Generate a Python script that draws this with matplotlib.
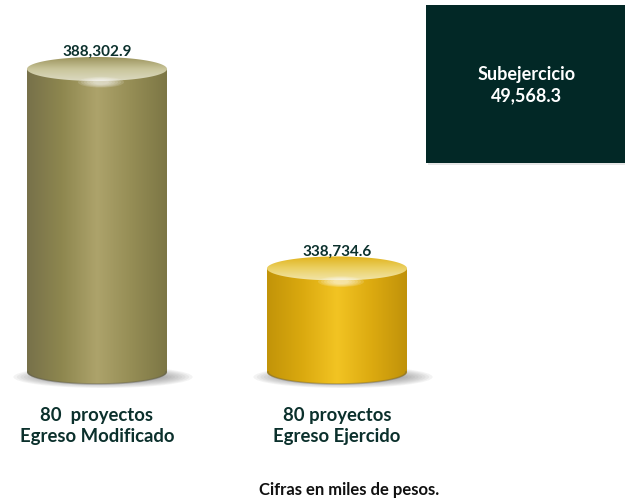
import numpy as np
import matplotlib.pyplot as plt
from matplotlib.patches import Ellipse, Rectangle, PathPatch
from matplotlib.path import Path
from matplotlib.colors import LinearSegmentedColormap

plt.rcParams['font.family'] = ['Lato', 'DejaVu Sans']

# data
labels = ['80  proyectos\nEgreso Modificado', '80 proyectos\nEgreso Ejercido']
values = [388302.9, 338734.6]
sub_label = 'Subejercicio'
sub_value = 49568.3
note = 'Cifras en miles de pesos.'
base = 313000  # truncated baseline of the value axis

text_col = '#0b302c'
body_cols = [['#77714a', '#8e874f', '#ada36b', '#958d55', '#7c7645'],
             ['#c29409', '#daa90f', '#f2c423', '#dcaa10', '#c0920a']]
cap_cols = [['#dcdac2', '#c9c59a', '#9b935c'],
            ['#f1e4a8', '#ebd062', '#e0b21a']]

fig = plt.figure(figsize=(6.25, 5.01), dpi=100)
ax = fig.add_axes([0, 0, 1, 1])
ax.axis('off')

per_px = (values[0] - base) / 303
xs = [97, 337]
w = 140
eh = 24 * per_px


def clipped_gradient(grad, extent, cols, verts, z):
    cmap = LinearSegmentedColormap.from_list('c', cols)
    im = ax.imshow(grad, extent=extent, cmap=cmap, aspect='auto', zorder=z,
                   interpolation='bicubic', vmin=0, vmax=1)
    codes = [Path.MOVETO] + [Path.LINETO] * (len(verts) - 2) + [Path.CLOSEPOLY]
    clip = PathPatch(Path(verts, codes), transform=ax.transData, facecolor='none', edgecolor='none')
    ax.add_patch(clip)
    im.set_clip_path(clip)


def cylinder(xc, val, cols, cap):
    # soft shadow, offset to the right
    for k in range(10):
        ax.add_patch(Ellipse((xc + 6, base - 5 * per_px), w * 1.28 - k * 7, (22 - k * 1.6) * per_px,
                             facecolor='#6f6f6f', edgecolor='none', alpha=0.08, zorder=1))
    t = np.linspace(np.pi, 2 * np.pi, 60)
    body = ([(xc - w / 2, val)] + list(zip(xc + w / 2 * np.cos(t), base + eh / 2 * np.sin(t)))
            + [(xc + w / 2, val), (xc - w / 2, val)])
    clipped_gradient(np.linspace(0, 1, 256)[None, :], [xc - w / 2, xc + w / 2, base - eh / 2, val],
                     cols, body, 2)
    # dark rim at the bottom
    ax.plot(xc + (w / 2 - 1) * np.cos(t), base + eh / 2 * np.sin(t), color='#555', lw=1.2, alpha=0.35, zorder=3)
    # top cap with vertical gradient
    t2 = np.linspace(0, 2 * np.pi, 120)
    capv = list(zip(xc + w / 2 * np.cos(t2), val + eh / 2 * np.sin(t2)))
    clipped_gradient(np.linspace(1, 0, 256)[:, None], [xc - w / 2, xc + w / 2, val - eh / 2, val + eh / 2],
                     cap, capv, 3)
    # highlight just below the front edge
    for k in range(6):
        ax.add_patch(Ellipse((xc + 4, val - eh * 0.55), 46 - k * 6, eh * (0.45 - k * 0.05),
                             facecolor='white', edgecolor='none', alpha=0.14, zorder=4))


for xc, v, cols, cap in zip(xs, values, body_cols, cap_cols):
    cylinder(xc, v, cols, cap)
    ax.text(xc, v + 17 * per_px, f'{v:,.1f}', ha='center', va='center', fontsize=11,
            fontweight='bold', color=text_col, zorder=5)

ax.set_xlim(0, 625)
ax.set_ylim(base - 129 * per_px, base + 372 * per_px)

for xc, lab in zip(xs, labels):
    fig.text(xc / 625, 1 - 426 / 501, lab, ha='center', va='center', fontsize=13.3,
             fontweight='bold', color=text_col, linespacing=1.3)

fig.text(349 / 625, 1 - 490 / 501, note, ha='center', va='center', fontsize=12,
         fontweight='bold', color='#111111')

# subejercicio box
fig.add_artist(Rectangle((428 / 625, 1 - 165 / 501), 197 / 625, 160 / 501, transform=fig.transFigure,
                         facecolor='#e6e6e6', edgecolor='none', zorder=0))
fig.add_artist(Rectangle((426 / 625, 1 - 163 / 501), 199 / 625, 158 / 501, transform=fig.transFigure,
                         facecolor='#022826', edgecolor='none', zorder=1))
fig.text(527 / 625, 1 - 85 / 501, f'{sub_label}\n{sub_value:,.1f}', ha='center', va='center',
         fontsize=13, fontweight='bold', color='white', linespacing=1.35, zorder=2)

fig.savefig('out.png', dpi=100, facecolor='white')
